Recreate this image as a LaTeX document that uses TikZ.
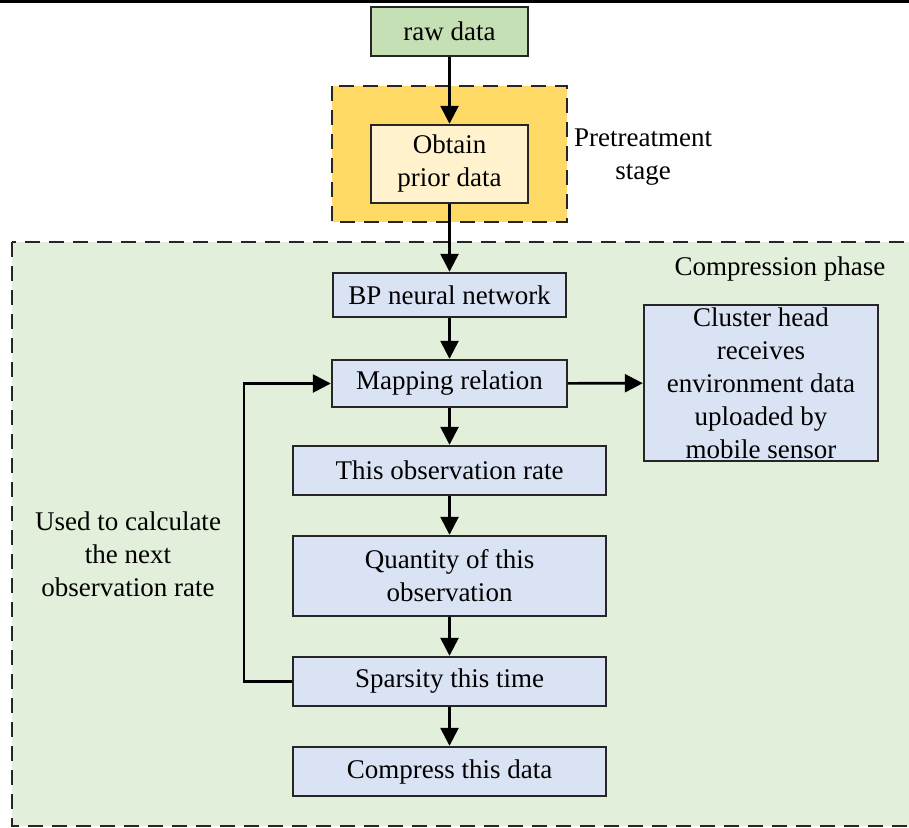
\documentclass[tikz,border=0pt]{standalone}
\usepackage{fontspec}
\setmainfont{Liberation Serif}
\usetikzlibrary{arrows.meta}

\definecolor{rawgreen}{HTML}{C5E0B4}
\definecolor{phasegreen}{HTML}{E2EFDA}
\definecolor{pregold}{HTML}{FFD966}
\definecolor{prelight}{HTML}{FFF2CC}
\definecolor{stepblue}{HTML}{DAE3F3}

\tikzset{
  box/.style={draw=black!85, line width=2.4pt, inner sep=0pt, align=center,
              font=\fontsize{27}{33}\selectfont},
  bluebox/.style={box, fill=stepblue},
  arr/.style={line width=2.6pt, -{Triangle[width=18pt,length=18pt]}},
  region/.style={draw=black!85, line width=2.4pt, dash pattern=on 15pt off 9pt},
  lbl/.style={align=center, inner sep=0pt, font=\fontsize{27}{33}\selectfont},
}

\begin{document}
\begin{tikzpicture}[x=1pt, y=-1pt]
  \useasboundingbox (0,0) rectangle (909,827);
  \fill[white] (0,0) rectangle (909,827);

  % rule across the top
  \draw[line width=2.4pt] (0,1.5) -- (909,1.5);

  % compression phase region (runs past the right edge)
  \path[region, fill=phasegreen] (12,242) rectangle (930,826);
  % pretreatment stage region
  \path[region, fill=pregold] (332,86) rectangle (567,222);

  % nodes
  \node[box, fill=rawgreen, minimum width=157pt, minimum height=49pt] (raw) at (449.5,31.5) {raw data};
  \node[box, fill=prelight, minimum width=157pt, minimum height=78pt] (obtain) at (449.5,164) {Obtain\\prior data};
  \node[bluebox, minimum width=233pt, minimum height=44pt] (bp) at (449.5,295) {BP neural network};
  \node[bluebox, minimum width=235pt, minimum height=47pt] (map) at (449.5,383.5) {Mapping relation};
  \node[bluebox, minimum width=313pt, minimum height=49pt] (rate) at (449.5,470.5) {This observation rate};
  \node[bluebox, minimum width=313pt, minimum height=80pt] (qty) at (449.5,576) {Quantity of this\\observation};
  \node[bluebox, minimum width=313pt, minimum height=49pt] (spars) at (449.5,681.5) {Sparsity this time};
  \node[bluebox, minimum width=313pt, minimum height=49pt] (comp) at (449.5,771.5) {Compress this data};
  \node[bluebox, minimum width=234pt, minimum height=156pt] (cluster) at (761,383)
    {Cluster head\\receives\\environment data\\uploaded by\\mobile sensor};

  % labels
  \node[lbl] (prelbl) at (643,157) {Pretreatment\\stage};
  \node[lbl] (complbl) at (780,269) {Compression phase};
  \node[lbl] (looplbl) at (128,554) {Used to calculate\\the next\\observation rate};

  % connectors
  \draw[arr] (raw) -- (obtain);
  \draw[arr] (obtain) -- (bp);
  \draw[arr] (bp) -- (map);
  \draw[arr] (map) -- (rate);
  \draw[arr] (rate) -- (qty);
  \draw[arr] (qty) -- (spars);
  \draw[arr] (spars) -- (comp);
  \draw[arr] (map) -- (cluster);
  \draw[arr] (spars.west) -- ++(-48,0) |- (map.west);
\end{tikzpicture}
\end{document}
